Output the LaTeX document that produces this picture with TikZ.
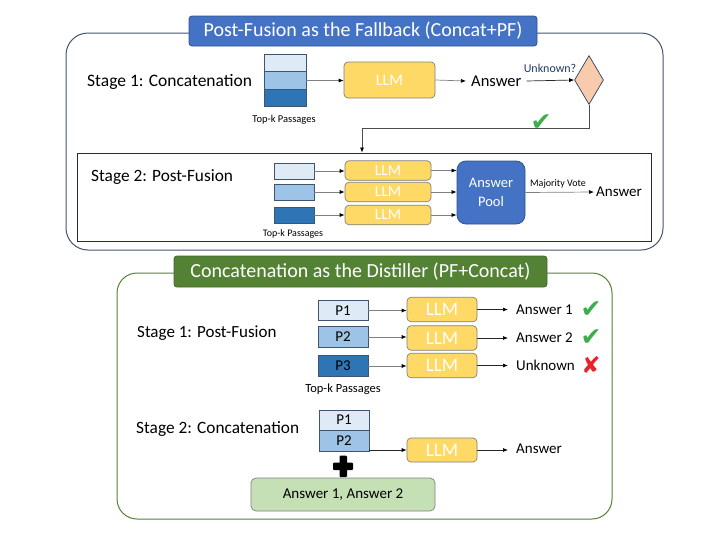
\documentclass[tikz,border=0pt]{standalone}
\usepackage{fontspec}
\setmainfont{Carlito}
\newfontfamily\dejavu{DejaVu Sans}
\usetikzlibrary{shapes.geometric,arrows.meta,calc}
\definecolor{titleblue}{HTML}{4472C4}
\definecolor{titlebluebd}{HTML}{2F528F}
\definecolor{slate}{HTML}{44546A}
\definecolor{navy}{HTML}{1F2A44}
\definecolor{passa}{HTML}{DEEBF7}
\definecolor{passb}{HTML}{9DC3E6}
\definecolor{passc}{HTML}{2E75B6}
\definecolor{passbd}{HTML}{41546E}
\definecolor{llmfill}{HTML}{FFD966}
\definecolor{llmbd}{HTML}{7F7F7F}
\definecolor{diafill}{HTML}{F8CBAD}
\definecolor{diabd}{HTML}{2E3F5C}
\definecolor{grn}{HTML}{548235}
\definecolor{grnbd}{HTML}{41672A}
\definecolor{ansfill}{HTML}{C5E0B4}
\definecolor{chk}{HTML}{3DAE49}
\definecolor{xred}{HTML}{E8212B}
\definecolor{linegray}{HTML}{808080}
\definecolor{unkcol}{HTML}{1F3864}
\newcommand\myfs[1]{\fontsize{#1}{#1}\selectfont}
\begin{document}
\begin{tikzpicture}[x=1pt,y=-1pt,
  pass/.style={draw=passbd, line width=0.6pt, inner sep=0pt},
  llm/.style={draw=llmbd, fill=llmfill, line width=0.7pt, rounded corners=4pt, inner sep=0pt, text=white},
  lbl/.style={inner sep=0pt},
  ansT/.style={anchor=west, inner xsep=5pt, inner ysep=0pt},
  gline/.style={draw=linegray, line width=0.7pt, -{Latex[color=black,length=5pt,width=4pt]}},
  kline/.style={draw=black!85, line width=0.7pt, -{Latex[color=black,length=5pt,width=4pt]}},
  ttl/.style={rounded corners=3pt, line width=0.8pt, inner sep=0pt, text=white, font=\myfs{20}},
  tick/.style={inner sep=0pt, font=\dejavu\myfs{25}},
  cross/.style={inner sep=0pt, font=\dejavu\myfs{23}}
]
\useasboundingbox (0,0) rectangle (704,541);

% ---------- top section ----------
\node[draw=slate, line width=1pt, rounded corners=22pt, minimum width=597pt, minimum height=217pt, inner sep=0pt] (outerA) at (364.5,141.5) {};
\node[ttl, fill=titleblue, draw=titlebluebd, minimum width=348pt, minimum height=30pt] (titleA) at (363,31) {Post-Fusion as the Fallback (Concat+PF)};
\node[lbl, anchor=west, font=\myfs{17.5}] (st1A) at (87,82) {Stage 1: Concatenation};
\node[pass, fill=passa, minimum width=42pt, minimum height=17.5pt] (sA1) at (285,63) {};
\node[pass, fill=passb, minimum width=42pt, minimum height=17.5pt] (sA2) at (285,80.5) {};
\node[pass, fill=passc, minimum width=42pt, minimum height=17.5pt] (sA3) at (285,98) {};
\node[lbl, font=\myfs{10.5}] (tkA) at (284,120) {Top-k Passages};
\node[llm, minimum width=91pt, minimum height=36pt, font=\myfs{16}] (llmA) at (389.5,80) {LLM};
\node[ansT, font=\myfs{16.5}] (ansA) at (466,81) {Answer};
\node[diamond, aspect=0.6, draw=diabd, fill=diafill, line width=0.7pt, minimum width=29pt, minimum height=49pt, inner sep=0pt] (dia) at (589,80) {};
\node[lbl, font=\myfs{12}, text=unkcol] (unk) at (550,68) {Unknown?};
\node[tick, text=chk] (chkA) at (541,123) {✔};

\node[draw=navy, line width=0.8pt, fill=white, minimum width=574pt, minimum height=88pt, inner sep=0pt] (innerB) at (364,197) {};
\node[lbl, anchor=west, font=\myfs{17.3}] (st2A) at (91,177) {Stage 2: Post-Fusion};
\node[pass, fill=passa, minimum width=40pt, minimum height=16pt] (pb1) at (294,171) {};
\node[pass, fill=passb, minimum width=40pt, minimum height=16pt] (pb2) at (294,192) {};
\node[pass, fill=passc, minimum width=40pt, minimum height=16pt] (pb3) at (294,215) {};
\node[lbl, font=\myfs{10}] (tkB) at (293,234) {Top-k Passages};
\node[llm, minimum width=86pt, minimum height=19.5pt, font=\myfs{15.5}] (llmB1) at (388,170.5) {LLM};
\node[llm, minimum width=86pt, minimum height=19.5pt, font=\myfs{15.5}] (llmB2) at (388,192) {LLM};
\node[llm, minimum width=86pt, minimum height=19.5pt, font=\myfs{15.5}] (llmB3) at (388,215) {LLM};
\node[draw=titlebluebd, fill=titleblue, line width=0.8pt, rounded corners=9pt, minimum width=68pt, minimum height=63pt, inner sep=0pt, text=white, align=center, font=\fontsize{14.5}{19}\selectfont] (pool) at (491,192.5) {Answer\\Pool};
\node[lbl, font=\myfs{10}] (mv) at (558,184) {Majority Vote};
\node[ansT, font=\myfs{15}, inner xsep=2pt] (ansB) at (594,192) {Answer};

\coordinate (fbx) at (362,128);

\draw[gline] (sA2.east) -- (sA2.east -| llmA.west);
\draw[gline] (llmA.east) -- (ansA.west);
\draw[kline] (ansA.east) -- (dia.west);
\draw[draw=black!70, line width=0.7pt, -{Latex[color=black,length=5pt,width=4pt]}] (dia.south) |- (fbx) -- (fbx |- innerB.north);
\foreach \i in {1,2,3}{
  \draw[gline] (pb\i.east) -- (pb\i.east -| llmB\i.west);
  \draw[gline] (llmB\i.east) -- (pool.west |- llmB\i.east);
}
\draw[gline] (pool.east) -- (ansB.west);

% ---------- bottom section ----------
\node[draw=grn, line width=1pt, rounded corners=20pt, minimum width=495pt, minimum height=246pt, inner sep=0pt] (outerC) at (364.5,396) {};
\node[ttl, fill=grn, draw=grnbd, minimum width=373pt, minimum height=31pt] (titleC) at (360.5,271.5) {Concatenation as the Distiller (PF+Concat)};
\node[lbl, anchor=west, font=\myfs{17}] (st1C) at (137,333) {Stage 1: Post-Fusion};
\node[pass, fill=passa, minimum width=50pt, minimum height=20.5pt, font=\myfs{15}] (P1) at (343,310.5) {P1};
\node[pass, fill=passb, minimum width=50pt, minimum height=20.5pt, font=\myfs{15}] (P2) at (343,337) {P2};
\node[pass, fill=passc, minimum width=50pt, minimum height=20.5pt, font=\myfs{15}] (P3) at (343,366) {P3};
\node[llm, minimum width=70pt, minimum height=24.5pt, font=\myfs{19}] (llmC1) at (442,309.5) {LLM};
\node[llm, minimum width=70pt, minimum height=24.5pt, font=\myfs{19}] (llmC2) at (442,338) {LLM};
\node[llm, minimum width=70pt, minimum height=24.5pt, font=\myfs{19}] (llmC3) at (442,365.5) {LLM};
\node[ansT, font=\myfs{15}, inner xsep=8pt] (ansC1) at (508,310) {Answer 1};
\node[ansT, font=\myfs{15}, inner xsep=8pt] (ansC2) at (508,338) {Answer 2};
\node[ansT, font=\myfs{15}, inner xsep=8pt] (ansC3) at (508,365) {Unknown};
\node[tick, text=chk] (chkC1) at (591,310) {✔};
\node[tick, text=chk] (chkC2) at (591,338) {✔};
\node[cross, text=xred] (xC3) at (591,365) {✘};
\node[lbl, font=\myfs{12.5}] (tkC) at (343,389) {Top-k Passages};

\node[lbl, anchor=west, font=\myfs{17.3}] (st2C) at (136,429) {Stage 2: Concatenation};
\node[pass, fill=passa, minimum width=50pt, minimum height=20pt, font=\myfs{15}] (Q1) at (344,420) {P1};
\node[pass, fill=passb, minimum width=50pt, minimum height=21pt, font=\myfs{15}] (Q2) at (344,440.5) {P2};
\fill[black, rounded corners=1pt] (333,462.5) rectangle (353,470);
\fill[black, rounded corners=1pt] (339.5,455.5) rectangle (347,477);
\node[draw=llmbd, fill=ansfill, line width=0.7pt, rounded corners=5pt, minimum width=184pt, minimum height=33pt, inner sep=0pt, font=\myfs{15}] (ansbox) at (343,494.5) {Answer 1, Answer 2};
\node[llm, minimum width=70pt, minimum height=24pt, font=\myfs{19}] (llmD) at (442,450) {LLM};
\node[ansT, font=\myfs{15}, inner xsep=8pt] (ansD) at (508,449) {Answer};

\foreach \i in {1,2,3}{
  \draw[gline] (P\i.east) -- (P\i.east -| llmC\i.west);
  \draw[kline] (llmC\i.east) -- (llmC\i.east -| ansC\i.west);
}
\draw[kline] (Q2.east |- llmD.west) -- (llmD.west);
\draw[kline] (llmD.east) -- (llmD.east -| ansD.west);
\end{tikzpicture}
\end{document}
